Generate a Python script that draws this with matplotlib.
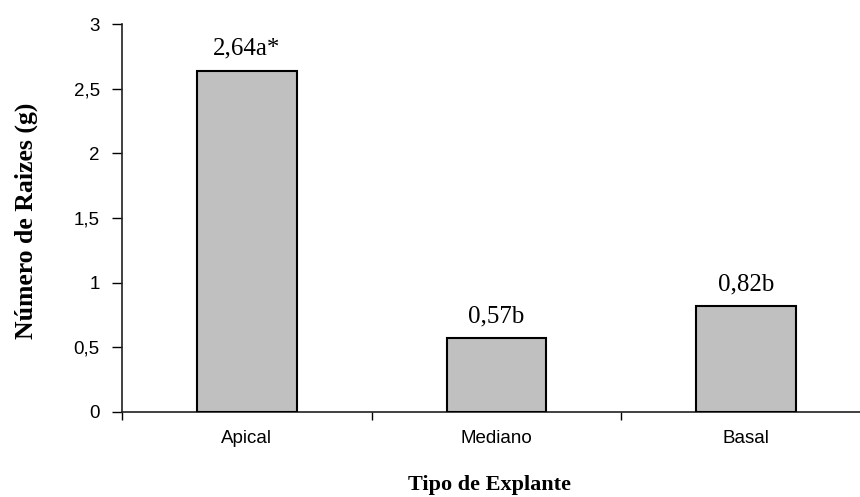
import matplotlib
matplotlib.use("Agg")
import matplotlib.pyplot as plt
import numpy as np

# data
categories = ["Apical", "Mediano", "Basal"]
values = [2.64, 0.57, 0.82]
bar_labels = ["2,64a*", "0,57b", "0,82b"]
yticks = [0, 0.5, 1, 1.5, 2, 2.5, 3]
ytick_labels = ["0", "0,5", "1", "1,5", "2", "2,5", "3"]

SANS = "Liberation Sans"
SERIF = "Liberation Serif"

fig = plt.figure(figsize=(8.6, 4.97), dpi=100)
# axes spans past the right edge, like the cropped original
ax = fig.add_axes([122 / 860, 1 - 412 / 497, 749 / 860, 388 / 497])

x = np.arange(len(categories))
ax.bar(x, values, width=0.4, color="#C0C0C0", edgecolor="black", linewidth=1.5, zorder=3)

for xi, v, lab in zip(x, values, bar_labels):
    ax.annotate(lab, (xi, v), xytext=(0, 11.5), textcoords="offset points",
                ha="center", va="baseline", fontsize=18, family=SERIF)

ax.set_xlim(-0.5, 2.5)
ax.set_ylim(0, 3)
ax.set_yticks(yticks)
ax.set_yticklabels(ytick_labels, family=SANS, fontsize=13.5)

# ticks sit on category boundaries, names centred under the bars
ax.set_xticks([-0.5, 0.5, 1.5, 2.5])
ax.set_xticklabels([])
ax.set_xticks(x, minor=True)
ax.set_xticklabels(categories, minor=True, family=SANS, fontsize=13.5)
ax.tick_params(axis="x", which="minor", length=0, pad=13)
ax.tick_params(axis="x", which="major", length=6, width=1, direction="out")
ax.tick_params(axis="y", length=7, width=1, direction="out", pad=9)

for s in ["top", "right"]:
    ax.spines[s].set_visible(False)
for s in ["left", "bottom"]:
    ax.spines[s].set_color("#202020")
    ax.spines[s].set_linewidth(1.2)

fig.text(26 / 860, 1 - 221 / 497, "Número de Raizes (g)", family=SERIF, fontweight="bold",
         fontsize=18.5, rotation=90, ha="center", va="center")
fig.text(490 / 860, 1 - 490 / 497, "Tipo de Explante", family=SERIF, fontweight="bold",
         fontsize=16, ha="center", va="baseline")

fig.savefig("out.png", dpi=100)
